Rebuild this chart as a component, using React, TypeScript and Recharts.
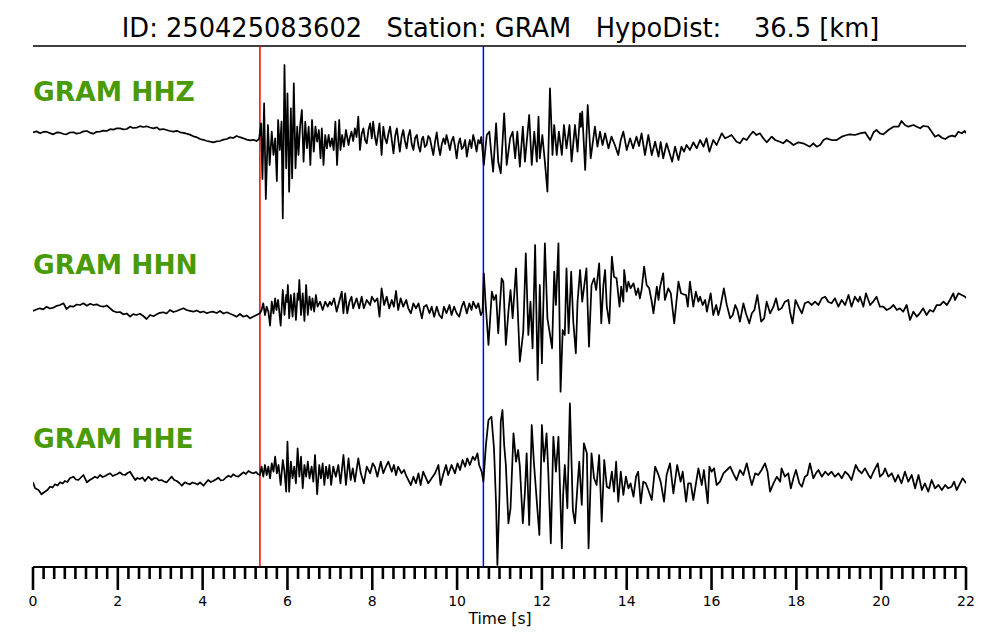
import React from 'react';
import { ComposedChart, Line, XAxis, YAxis, ReferenceLine } from 'recharts';

// ---------- text ----------
const TITLE = 'ID: 250425083602   Station: GRAM   HypoDist:    36.5 [km]';
const TRACE_LABELS = ['GRAM HHZ', 'GRAM HHN', 'GRAM HHE'];
const X_LABEL = 'Time [s]';

// ---------- picks (s) ----------
const P_PICK = 5.35;
const S_PICK = 10.62;

// ---------- axis ticks (s) ----------
const X_TICKS = Array.from({ length: 89 }, (_, i) => i * 0.25);

// ---------- traces: [time s, amplitude] ----------
const HHZ: [number, number][] = [
  [0.00,-0.3],[0.08,0.6],[0.17,-1.3],[0.25,0.2],[0.32,0.3],[0.40,-1.2],[0.48,-2.3],[0.56,-0.4],[0.64,-0.7],[0.72,-2.0],
  [0.79,-2.3],[0.87,-0.5],[0.95,-0.3],[1.03,-1.6],[1.11,-1.0],[1.19,0.6],[1.27,1.0],[1.35,-0.8],[1.42,-1.7],[1.50,0.2],
  [1.58,0.3],[1.66,1.4],[1.74,1.0],[1.82,2.8],[1.89,2.3],[1.97,3.6],[2.05,3.7],[2.13,2.6],[2.21,3.0],[2.29,5.3],
  [2.36,4.0],[2.44,4.3],[2.52,5.8],[2.60,5.0],[2.68,5.7],[2.76,4.5],[2.84,3.7],[2.92,4.6],[2.99,2.3],[3.07,3.0],
  [3.15,2.0],[3.23,1.0],[3.31,0.3],[3.39,1.2],[3.47,-0.3],[3.55,-0.8],[3.62,-1.7],[3.70,-2.6],[3.78,-4.3],[3.86,-5.2],
  [3.94,-7.0],[4.02,-7.8],[4.10,-9.0],[4.18,-9.6],[4.25,-10.3],[4.33,-9.4],[4.41,-9.0],[4.49,-7.6],[4.57,-7.0],[4.65,-5.4],
  [4.72,-6.0],[4.80,-4.0],[4.88,-5.2],[4.96,-6.3],[5.04,-7.6],[5.12,-8.3],[5.20,-7.8],[5.27,-9.0],[5.33,-7.0],
  [5.38,8.7],[5.41,-47],[5.45,28.7],[5.49,-67],[5.54,7],[5.58,-33],[5.63,0.3],[5.67,-23],[5.71,-6.3],[5.75,-49],
  [5.78,12],[5.82,-18],[5.86,10.3],[5.89,-86.3],[5.93,67],[5.97,-36.3],[6.00,38.7],[6.04,-59.7],[6.08,23.7],[6.11,-46.3],
  [6.15,48.7],[6.19,-36.3],[6.23,5.3],[6.26,-23],[6.30,7],[6.34,22],[6.38,-29.7],[6.42,10.3],[6.46,-16.3],[6.50,5.3],
  [6.54,-33],[6.58,12],[6.62,-19.7],[6.66,5.3],[6.70,-9.7],[6.74,2],[6.78,-26.3],[6.81,3.7],[6.85,-33],[6.89,-3],
  [6.93,-16.3],[6.97,-3],[7.01,-14.7],[7.05,-6.3],[7.09,-18],[7.13,10.3],[7.17,-33],[7.22,12],[7.25,-18],[7.29,-3],
  [7.33,-14.7],[7.38,2],[7.44,-13],
  [7.47,-6],[7.51,0.3],[7.55,-9],[7.59,3.7],[7.63,-5],[7.67,15.3],[7.71,-18],[7.75,-2],[7.79,3.7],[7.83,-8],
  [7.87,-11.3],[7.91,2],[7.95,8.7],[7.99,-6.3],[8.02,10.3],[8.06,-4],[8.10,-13],[8.14,0],[8.17,8.7],[8.20,-10],
  [8.22,-23],[8.26,5.3],[8.30,-6],[8.34,-11.3],[8.38,-2],[8.42,5.3],[8.46,-8],[8.50,-21.3],[8.54,-4],[8.58,3.7],
  [8.62,-10],[8.65,-19.7],[8.69,-5],[8.73,2],[8.77,-9],[8.81,-16.3],[8.85,-4],[8.89,2],[8.93,-12],[8.97,-18],
  [9.01,-6],[9.05,-3],[9.09,-14],[9.13,-19.7],[9.17,-7],[9.20,-4.7],[9.24,-15],[9.28,-13],[9.32,-4],[9.36,-6.3],
  [9.40,-15],[9.44,-23],[9.48,-10],[9.52,-0.3],[9.56,-14],[9.60,-23],[9.64,-12],[9.68,-6.3],[9.72,-12],[9.75,-3],
  [9.79,-10],[9.83,-18],[9.87,-9],[9.91,-4.7],[9.95,-14],[9.99,-26.3],[10.03,-12],[10.07,-6.3],[10.11,-17],[10.15,-14.7],
  [10.19,-8],[10.23,-24.7],[10.27,-14],[10.30,-8],[10.34,-16],[10.38,-3],[10.42,-10],[10.46,-19.7],[10.50,-8],[10.54,-11.3],
  [10.57,-5],[10.60,-18],
  [10.63,-33],[10.70,-3],[10.76,0.3],[10.81,-23],[10.85,-39.7],[10.92,8.7],[10.97,-29.7],[11.03,-41.3],[11.11,18.7],[11.17,-33],
  [11.25,-6.3],[11.31,0.3],[11.37,-26.3],[11.42,0.3],[11.48,-34.7],[11.55,5.3],[11.60,-29.7],[11.70,17],[11.76,-33],[11.82,0.3],
  [11.88,-29.7],[11.92,15.3],[11.95,-26.3],[12.01,-3],[12.07,-29.7],[12.13,-59.7],[12.19,43.7],[12.25,-23],[12.29,7],[12.35,-23],
  [12.40,0.3],[12.47,-23],[12.52,7],[12.58,-16.3],[12.65,7],[12.70,-29.7],[12.78,7],[12.84,-19.7],[12.90,18.7],[12.92,5],
  [12.95,20.3],[13.02,-38],[13.08,27],[13.15,-26.3],[13.25,5.3],[13.31,-14.7],[13.37,0.3],[13.43,-13],[13.49,-1.3],[13.57,-16.3],
  [13.64,-4.7],[13.72,-13],[13.80,-23],[13.86,-8],[13.92,0.3],[14.00,-18],[14.08,-6.3],[14.15,-16.3],[14.23,-4.7],[14.29,-14],
  [14.35,-1.3],[14.43,-23],[14.51,-3],[14.59,-23],[14.67,-9.7],[14.75,-24.7],
  [14.80,-10],[14.86,-26.3],[14.94,-11.3],[15.00,-19.7],[15.07,-29.7],[15.14,-14.7],[15.22,-28],[15.29,-14.7],[15.35,-19.7],[15.41,-13],
  [15.49,-18],[15.57,-10.3],[15.65,-16.3],[15.73,-8],[15.81,-14.7],[15.88,-6.3],[15.95,-19.7],[16.04,-8],[16.12,-13],[16.24,-1.3],
  [16.32,-6.3],[16.40,-4.7],[16.47,-3],[16.59,-9.7],[16.67,-11.3],[16.75,-6.3],[16.83,-8],[16.91,-3],[16.98,0.3],[17.06,-3],
  [17.14,-1.3],[17.22,-6.3],[17.30,-10.3],[17.42,-4.7],[17.50,-8],[17.61,-9.7],[17.69,-11.3],[17.77,-8],[17.85,-10.3],[17.93,-13],
  [18.05,-10.3],[18.16,-11.3],[18.24,-13],[18.32,-14.7],[18.40,-11.3],[18.48,-14.7],[18.56,-13],[18.64,-8],[18.71,-6.3],[18.83,-8],
  [18.95,-8],[19.07,-4.7],[19.19,-3],[19.26,-2.3],[19.38,-3],[19.50,-1.3],[19.62,-0.3],[19.74,-8],[19.82,-0.3],[19.89,2],
  [19.97,-1.3],[20.05,-2.3],[20.17,2],[20.29,5.3],[20.41,5.3],[20.48,11],[20.56,7],[20.64,5.3],[20.76,7],[20.84,5.3],
  [20.92,3.7],[20.99,6],[21.11,5.3],[21.19,0.3],[21.27,-4.7],[21.35,-3],[21.43,-5.7],[21.51,-7],[21.59,-4.7],[21.67,-3.7],
  [21.74,-4.7],[21.82,0.3],[21.90,-1.3],[21.97,1],[22.00,-1.3],
];

const HHN: [number, number][] = [
  [0.00,-1],[0.08,0.5],[0.16,1.7],[0.24,0.6],[0.32,3.3],[0.40,1.5],[0.48,2.3],[0.56,4.2],[0.64,5],[0.72,6.7],
  [0.79,1],[0.87,3.8],[0.95,3.3],[1.03,5.5],[1.11,5],[1.19,6.7],[1.27,4.3],[1.35,6.2],[1.42,5],[1.50,5.7],
  [1.58,4.0],[1.66,3.3],[1.74,4.5],[1.82,1.7],[1.89,-1],[1.97,-2.3],[2.05,-2.0],[2.13,-4.3],[2.21,-3.5],[2.29,-6.7],
  [2.36,-4.2],[2.44,-5],[2.52,-3.8],[2.60,-6],[2.68,-9],[2.76,-5],[2.84,-6.2],[2.92,-4.3],[2.99,-2.8],[3.07,-2.3],
  [3.15,-3.5],[3.23,0],[3.31,-2.0],[3.39,-1],[3.47,0.5],[3.55,1.7],[3.62,0],[3.70,-0.8],[3.78,-1.7],[3.86,-0.5],
  [3.94,-2.3],[4.02,-1.5],[4.10,-3.3],[4.18,-2.0],[4.25,-1.7],[4.33,-3.0],[4.41,-1],[4.49,-3.5],[4.57,-2.3],[4.65,-3.8],
  [4.72,-5],[4.80,-6.7],[4.88,-4.0],[4.96,-6.7],[5.04,-5.5],[5.12,-8.3],[5.20,-6.5],[5.27,-5],[5.35,-3.3],
  [5.39,0],[5.43,6.7],[5.47,-5],[5.51,3.3],[5.55,-1.7],[5.59,-15.7],[5.63,8.3],[5.67,-3.3],[5.71,11.7],[5.74,0],
  [5.78,10],[5.84,-15.7],[5.89,20],[5.93,-5],[5.97,15],[5.99,8],[6.01,25],[6.04,-8.3],[6.08,15],[6.12,-6.7],
  [6.16,16.7],[6.20,-10],[6.24,16.7],[6.26,10],[6.28,30],[6.32,-5],[6.36,16.7],[6.40,-11],[6.44,25],[6.48,-5],
  [6.52,13.3],[6.56,0],[6.59,11.7],[6.63,-1.7],[6.67,15],[6.71,3.3],[6.77,8.3],[6.83,0],[6.89,8.3],[6.95,3.3],
  [7.00,8.3],[7.04,5],[7.10,11.7],[7.16,-1.7],[7.22,8.3],[7.28,18.3],[7.32,-3.3],[7.36,16.7],[7.41,-3.3],[7.46,8],
  [7.51,13.3],[7.55,1.7],[7.63,11.7],[7.69,1.7],[7.75,13.3],[7.80,1.7],[7.87,10],[7.95,5],[7.99,13.3],[8.06,8.3],
  [8.12,11.7],[8.17,-6.7],[8.22,21.7],[8.28,5],[8.34,13.3],[8.40,1.7],[8.46,10],[8.51,3.3],[8.56,19],[8.61,0],
  [8.67,11.7],[8.73,3.3],[8.80,10],[8.85,1.7],[8.91,-3.3],[8.97,6.7],[9.03,1.7],[9.09,6.7],[9.17,-8.3],[9.22,3.3],
  [9.28,5],[9.35,-3.3],[9.40,3.3],[9.46,-6.7],[9.52,3.3],[9.58,-5],[9.64,-8.3],[9.69,3.3],[9.75,-3.3],[9.82,5],
  [9.87,-5],[9.93,3.3],[9.99,-3.3],[10.05,-6.7],[10.11,3.3],[10.16,8.3],[10.23,-3.3],[10.29,6.7],[10.34,0],[10.38,8.3],
  [10.45,1.7],[10.50,6.7],[10.56,-5],[10.60,-1.7],
  [10.63,36.7],[10.67,8.3],[10.74,-35],[10.82,18.3],[10.87,10],[10.92,15],[10.97,-23.3],[11.05,31.7],[11.09,28.3],[11.15,-35],
  [11.21,-1.7],[11.26,20],[11.31,-8.3],[11.39,41.7],[11.48,-51.7],[11.56,-21.7],[11.62,56.7],[11.68,-25],[11.73,8.3],[11.78,-38.3],
  [11.84,65],[11.90,-70],[11.95,25],[12.00,-53.3],[12.07,66.7],[12.13,-8.3],[12.18,-21.7],[12.24,-38.3],[12.29,38.3],[12.33,5],
  [12.39,66.7],[12.44,-81.7],[12.49,-20],[12.54,-25],[12.58,41.7],[12.63,-23.3],[12.69,38.3],[12.74,-11.7],[12.80,-43.3],[12.84,8.3],
  [12.90,40],[12.95,8.3],[13.02,31.7],[13.05,41.7],[13.11,-36.7],[13.17,25],[13.23,31.7],[13.28,20],[13.35,46.7],[13.40,-13.3],
  [13.45,25],[13.49,40],[13.53,3.3],[13.59,-13.3],[13.65,53.3],[13.70,33.3],[13.76,31.7],[13.83,3.3],[13.87,23.3],[13.92,8.3],
  [13.94,40],[14.00,18.3],[14.04,28.3],[14.09,21.7],[14.16,26.7],[14.22,15],[14.27,21.7],[14.31,11.7],[14.35,20],[14.41,43.3],
  [14.47,25],[14.53,21.7],[14.59,8.3],[14.63,-3.3],
  [14.71,23.3],[14.75,10],[14.78,21.7],[14.86,36.7],[14.90,10],[14.98,21.7],[15.04,16.7],[15.12,-13.3],[15.22,28.3],[15.28,16.7],
  [15.34,15.7],[15.40,15],[15.44,3.3],[15.49,28.3],[15.57,3.3],[15.63,18.3],[15.69,8.3],[15.73,13.3],[15.79,5],[15.85,10],
  [15.89,-1.7],[15.98,16.7],[16.04,-5],[16.11,5],[16.16,-5],[16.21,3.3],[16.29,21.7],[16.36,5],[16.44,-8.3],[16.50,-5],
  [16.56,5],[16.61,0],[16.67,-11.7],[16.75,6.7],[16.81,-3.3],[16.89,-13.3],[16.95,-3.3],[17.01,0],[17.08,15],[17.17,-11.7],
  [17.24,-8.3],[17.30,8.3],[17.38,-3.3],[17.46,3.3],[17.52,11.7],[17.58,0],[17.65,1.7],[17.73,8.3],[17.81,10],[17.85,-1.7],
  [17.91,-13.3],[17.98,10],[18.05,3.3],[18.13,-3.3],[18.20,6.7],[18.28,8.3],[18.36,5],[18.44,8.3],[18.52,5],[18.60,11.7],
  [18.68,13.3],[18.75,8.3],[18.83,6.7],[18.91,11.7],[18.99,3.3],[19.07,10],[19.15,5],[19.23,15],[19.30,3.3],[19.38,13.3],
  [19.46,8.3],[19.50,13.3],[19.58,3.3],[19.64,16.7],[19.74,5],[19.81,8.3],[19.89,13.3],[19.97,3.3],[20.05,3.3],[20.13,0],
  [20.21,1.7],[20.29,5],[20.37,0],[20.44,1.7],[20.52,-1.7],[20.60,5],[20.68,-10],[20.76,-1.7],[20.84,-6.7],[20.91,-3.3],
  [20.99,1.7],[21.07,-5],[21.15,0],[21.23,-1.7],[21.31,5],[21.39,5],[21.47,8.3],[21.55,5],[21.62,10],[21.70,16.7],
  [21.74,10],[21.82,16.7],[21.90,15],[21.98,13.3],[22.00,11.7],
];

const HHE: [number, number][] = [
  [0.00,2.7],[0.05,-3.3],[0.13,-5],[0.20,-9.3],[0.28,-6.7],[0.34,-5.0],[0.40,-1.7],[0.46,-2.5],[0.52,0.7],[0.58,-0.5],
  [0.64,2.7],[0.70,1.5],[0.75,4],[0.81,3.0],[0.87,6.7],[0.95,8.3],[1.01,5.5],[1.07,5],[1.13,7.5],[1.19,10],
  [1.27,2.7],[1.34,5],[1.40,6.5],[1.46,8.3],[1.52,7.0],[1.58,10],[1.64,8.0],[1.70,9],[1.76,10.5],[1.82,11.7],
  [1.88,9.0],[1.93,10],[1.99,11.0],[2.05,12.7],[2.11,10.5],[2.17,10],[2.23,12.0],[2.29,13.3],[2.35,9.0],[2.41,5],
  [2.46,7.0],[2.52,6],[2.58,7.5],[2.64,4],[2.72,8.3],[2.80,5],[2.86,7.0],[2.92,6.7],[2.97,4.5],[3.03,5],
  [3.09,3.5],[3.15,2.7],[3.21,5.5],[3.27,8.3],[3.33,5.0],[3.39,4],[3.45,2.0],[3.51,-0.7],[3.58,2.7],[3.64,1.5],
  [3.70,0.7],[3.76,2.5],[3.82,1.7],[3.88,0.5],[3.94,2.7],[4.02,-0.7],[4.08,2.5],[4.13,5],[4.19,3.0],[4.25,4],
  [4.31,5.5],[4.37,7.3],[4.43,4.5],[4.49,5],[4.55,7.5],[4.61,9.3],[4.67,8.0],[4.72,10.7],[4.78,9.0],[4.84,8.3],
  [4.90,10.5],[4.96,12.7],[5.02,11.0],[5.08,14],[5.14,12.5],[5.20,11.7],[5.26,13.0],[5.31,10.7],[5.35,10],
  [5.39,18.3],[5.43,8.3],[5.47,20],[5.51,10],[5.55,18.3],[5.59,6.7],[5.63,21.7],[5.67,13.3],[5.71,28.3],[5.75,11.7],
  [5.79,20],[5.84,0],[5.89,25],[5.93,13.3],[5.97,-6.7],[6.00,43.3],[6.04,-6.7],[6.08,23.3],[6.12,6.7],[6.16,18.3],
  [6.20,1.7],[6.24,36.7],[6.28,8.3],[6.32,28.3],[6.36,-3.3],[6.40,20],[6.44,8.3],[6.48,23.3],[6.52,6.7],[6.57,18.3],
  [6.61,3.3],[6.65,30],[6.70,-9.3],[6.75,20],[6.79,6.7],[6.83,21.7],[6.87,0],[6.91,18.3],[6.95,6.7],[6.99,20],
  [7.03,0],[7.08,18.3],[7.14,8.3],[7.20,20],[7.25,1.7],[7.32,30],[7.38,0],[7.44,26.7],[7.49,5],
  [7.54,16.7],[7.59,3.3],[7.67,26.7],[7.73,11.7],[7.80,1.7],[7.87,18.3],[7.95,11.7],[8.01,21.7],[8.06,18.3],[8.12,8.3],
  [8.20,23.3],[8.26,11.7],[8.32,18.3],[8.38,23.3],[8.46,13.3],[8.51,20],[8.56,10],[8.61,18.3],[8.69,11.7],[8.75,15],
  [8.81,8.3],[8.91,0],[8.97,8.3],[9.03,1.7],[9.09,11.7],[9.14,0],[9.20,13.3],[9.27,6.7],[9.32,1.7],[9.40,6.7],
  [9.48,11.7],[9.56,20],[9.61,0],[9.68,11.7],[9.74,20],[9.79,10],[9.87,20],[9.95,11.7],[10.01,21.7],[10.07,15],
  [10.13,25],[10.19,18.3],[10.24,26.7],[10.30,20],[10.37,28.3],[10.42,25],[10.48,31.7],[10.52,20],[10.58,13.3],[10.62,3.3],
  [10.68,40],[10.74,65],[10.81,68.3],[10.87,36.7],[10.92,-20],[10.95,-80],[11.00,-10],[11.03,63.3],[11.07,75],[11.11,40],
  [11.15,20],[11.21,-38.3],[11.26,-23.3],[11.33,51.7],[11.39,23.3],[11.44,35],[11.48,18.3],[11.55,-38.3],[11.60,-6.7],[11.64,31.7],
  [11.70,-40],[11.76,60],[11.81,23.3],[11.88,-16.7],[11.94,-50],[12.00,60],[12.05,23.3],[12.11,51.7],[12.15,13.3],[12.21,-58.3],
  [12.27,48.3],[12.33,13.3],[12.39,48.3],[12.47,-63.3],[12.50,-10],[12.54,20],[12.60,-23.3],[12.66,81.7],[12.73,-25],[12.78,-38.3],
  [12.84,0],[12.88,23.3],[12.94,-20],[12.99,41.7],[13.06,31.7],[13.10,-63.3],[13.17,31.7],[13.23,6.7],[13.29,0],[13.35,30],
  [13.41,-36.7],[13.47,25],[13.53,-1.7],[13.59,-3.3],[13.65,13.3],[13.70,-6.7],[13.75,23.3],[13.80,-16.7],[13.86,13.3],[13.92,-10],
  [13.98,8.3],[14.04,-3.3],[14.09,1.7],[14.16,-11.7],[14.22,8.3],[14.27,13.3],[14.33,-18.3],[14.39,3.3],[14.45,1.7],[14.51,-5],
  [14.59,-15],[14.67,18.3],
  [14.75,10],[14.80,3.3],[14.88,-16.7],[14.94,10],[15.02,21.7],[15.10,-8.3],[15.19,20],[15.27,3.3],[15.32,13.3],[15.40,-16.7],
  [15.45,1.7],[15.51,1.7],[15.57,-15],[15.69,16.7],[15.77,0],[15.82,15],[15.91,-18.3],[15.95,18.3],[16.00,13.3],[16.06,16.7],
  [16.12,0],[16.20,3.3],[16.28,11.7],[16.36,15],[16.44,18.3],[16.51,11.7],[16.59,5],[16.67,15],[16.75,10],[16.83,21.7],
  [16.91,6.7],[16.95,0],[17.03,11.7],[17.10,10],[17.18,15],[17.26,21.7],[17.32,13.3],[17.38,-6.7],[17.46,1.7],[17.54,8.3],
  [17.62,3.3],[17.65,16.7],[17.73,8.3],[17.81,11.7],[17.87,-3.3],[17.93,6.7],[17.99,15],[18.07,1.7],[18.13,-1.7],[18.20,8.3],
  [18.26,10],[18.32,21.7],[18.40,6.7],[18.46,11.7],[18.52,15],[18.60,8.3],[18.68,13.3],[18.75,10],[18.83,13.3],[18.91,8.3],
  [18.99,11.7],[19.07,6.7],[19.15,13.3],[19.23,10],[19.30,5],[19.40,20],[19.46,15],[19.54,11.7],[19.62,16.7],[19.70,10],
  [19.75,6.7],[19.82,13.3],[19.92,21.7],[19.97,8.3],[20.05,11.7],[20.09,16.7],[20.17,8.3],[20.25,11.7],[20.33,3.3],[20.40,10],
  [20.48,1.7],[20.56,13.3],[20.64,3.3],[20.72,10],[20.80,-3.3],[20.88,10],[20.96,-5],[21.03,1.7],[21.11,-6.7],[21.19,5],
  [21.27,-3.3],[21.35,0],[21.43,-5],[21.51,0],[21.58,-3.3],[21.66,-1.7],[21.72,3.3],[21.78,-5],[21.86,1.7],[21.92,6.7],
  [21.98,3.3],[22.00,1.7],
];

const toRows = (arr: [number, number][]) => arr.map(([t, a]) => ({ t, a }));
const hhzRows = toRows(HHZ);
const hhnRows = toRows(HHN);
const hheRows = toRows(HHE);

const FONT = '"DejaVu Sans", sans-serif';
const GREEN = '#4a9a06';

function TimeTick(props: any) {
  const { x, y, payload } = props;
  const v = payload.value as number;
  const major = Math.abs(v / 2 - Math.round(v / 2)) < 1e-6;
  return (
    <g>
      <line x1={x} y1={y} x2={x} y2={y + (major ? 23 : 12)} stroke="#000" strokeWidth={2.6} />
      {major && (
        <text x={x} y={y + 39} textAnchor="middle" fontSize={14} fontFamily={FONT} fill="#000">
          {v}
        </text>
      )}
    </g>
  );
}

export default function App() {
  const lineProps = {
    dataKey: 'a',
    stroke: '#000',
    strokeWidth: 1.75,
    dot: false,
    activeDot: false,
    isAnimationActive: false,
    type: 'linear' as const,
    strokeLinejoin: 'round' as const,
  };
  return (
    <div style={{ position: 'absolute', left: 0, top: 0, width: 1000, height: 640, background: '#fff' }}>
      <ComposedChart width={1000} height={640} margin={{ top: 46, right: 34, bottom: 23, left: 33 }}>
        <XAxis
          type="number"
          dataKey="t"
          domain={[0, 22]}
          ticks={X_TICKS}
          interval={0}
          tick={<TimeTick />}
          tickSize={0}
          tickMargin={0}
          tickLine={false}
          axisLine={{ stroke: '#000', strokeWidth: 2.2 }}
          height={50}
          allowDataOverflow
        />
        <YAxis yAxisId="z" type="number" hide domain={[-435, 86]} allowDataOverflow />
        <YAxis yAxisId="n" type="number" hide domain={[-257, 264]} allowDataOverflow />
        <YAxis yAxisId="e" type="number" hide domain={[-82, 439]} allowDataOverflow />
        <ReferenceLine yAxisId="z" y={86} stroke="#000" strokeWidth={1.5} />
        <ReferenceLine yAxisId="z" x={P_PICK} stroke="#ff0000" strokeWidth={1.5} />
        <ReferenceLine yAxisId="z" x={S_PICK} stroke="#0000ff" strokeWidth={1.5} />
        <Line yAxisId="z" data={hhzRows} {...lineProps} />
        <Line yAxisId="n" data={hhnRows} {...lineProps} />
        <Line yAxisId="e" data={hheRows} {...lineProps} />
      </ComposedChart>
      <svg width={1000} height={640} style={{ position: 'absolute', left: 0, top: 0, pointerEvents: 'none' }}>
        <text x={500.5} y={37} textAnchor="middle" fontSize={25.7} fontFamily={FONT} fill="#000" xmlSpace="preserve" style={{ whiteSpace: 'pre' }}>
          {TITLE}
        </text>
        <text x={33} y={101} fontSize={26.5} fontWeight="bold" fontFamily={FONT} fill={GREEN}>{TRACE_LABELS[0]}</text>
        <text x={33} y={274} fontSize={26.5} fontWeight="bold" fontFamily={FONT} fill={GREEN}>{TRACE_LABELS[1]}</text>
        <text x={33} y={448} fontSize={26.5} fontWeight="bold" fontFamily={FONT} fill={GREEN}>{TRACE_LABELS[2]}</text>
        <text x={500} y={624} textAnchor="middle" fontSize={15.5} fontFamily={FONT} fill="#000">{X_LABEL}</text>
      </svg>
    </div>
  );
}
